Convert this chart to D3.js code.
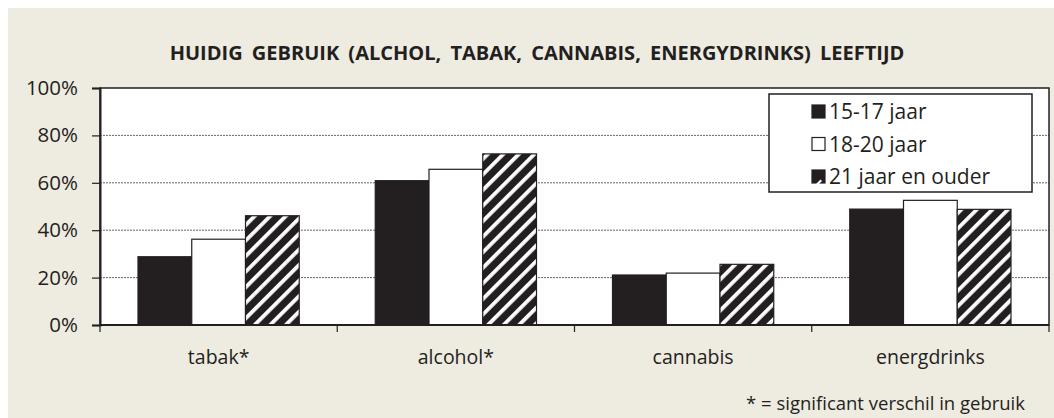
<!DOCTYPE html>
<html>
<head>
<meta charset="utf-8">
<script src="https://cdn.jsdelivr.net/npm/d3@7"></script>
<style>
    body { margin: 0; background: #fff; }
    text { font-family: "Open Sans", "Noto Sans", sans-serif; fill: #231f20; }
</style>
</head>
<body>
<div id="chart"></div>
<script>
const width = 1054, height = 418
const margin = {top: 88, right: 5, bottom: 93, left: 100}
const innerW = width - margin.left - margin.right
const innerH = height - margin.top - margin.bottom

const categories = ["tabak*", "alcohol*", "cannabis", "energdrinks"]
const seriesNames = ["15-17 jaar", "18-20 jaar", "21 jaar en ouder"]
const age15_17 = [28.8, 60.9, 21.1, 48.9]
const age18_20 = [36.2, 65.7, 21.9, 52.6]
const age21plus = [46.1, 72.2, 25.6, 48.8]
const yTicks = [0, 20, 40, 60, 80, 100]
const title = "HUIDIG GEBRUIK (ALCHOL, TABAK, CANNABIS, ENERGYDRINKS) LEEFTIJD"
const footnote = "* = significant verschil in gebruik"

const seriesValues = [age15_17, age18_20, age21plus]
const ink = "#231f20"

const svg = d3.select("#chart").append("svg")
    .attr("width", width)
    .attr("height", height)

// hatch pattern for oldest group
const defs = svg.append("defs")
const pat = defs.append("pattern")
    .attr("id", "hatch")
    .attr("patternUnits", "userSpaceOnUse")
    .attr("width", 11)
    .attr("height", 11)
    .attr("patternTransform", "rotate(45)")
pat.append("rect").attr("width", 11).attr("height", 11).attr("fill", ink)
pat.append("rect").attr("x", 0).attr("width", 3.8).attr("height", 11).attr("fill", "#fff")

const fills = [ink, "#fff", "url(#hatch)"]

// beige background
svg.append("rect")
    .attr("x", 8).attr("y", 8)
    .attr("width", width - 8).attr("height", height - 8)
    .attr("fill", "#eeebe0")

svg.append("text")
    .attr("x", 537)
    .attr("y", 60)
    .attr("text-anchor", "middle")
    .style("font-size", "20px")
    .style("font-weight", "bold")
    .style("word-spacing", "4px")
    .text(title)

const g = svg.append("g")
    .attr("transform", "translate(" + margin.left + "," + margin.top + ")")

const x0 = d3.scaleBand().domain(categories).range([0, innerW])
const x1 = d3.scaleBand().domain(d3.range(seriesNames.length))
    .range([38, x0.bandwidth() - 38])
const y = d3.scaleLinear().domain([0, 100]).range([innerH, 0])

g.append("rect")
    .attr("width", innerW)
    .attr("height", innerH)
    .attr("fill", "#fff")

// gridlines
g.selectAll(".grid")
    .data(yTicks.filter(d => d > 0 && d < 100))
    .enter().append("line")
    .attr("x1", 0).attr("x2", innerW)
    .attr("y1", d => y(d)).attr("y2", d => y(d))
    .attr("stroke", "#666")
    .attr("stroke-width", 1)
    .attr("stroke-dasharray", "2,1")

// bars
seriesValues.forEach((vals, s) => {
    g.selectAll(".bar" + s)
        .data(vals)
        .enter().append("rect")
        .attr("x", (d, i) => x0(categories[i]) + x1(s))
        .attr("y", d => y(d))
        .attr("width", x1.bandwidth())
        .attr("height", d => innerH - y(d))
        .attr("fill", fills[s])
        .attr("stroke", ink)
        .attr("stroke-width", 1.2)
})

// plot frame
g.append("rect")
    .attr("width", innerW)
    .attr("height", innerH)
    .attr("fill", "none")
    .attr("stroke", ink)
    .attr("stroke-width", 1.5)

// y axis
const yAxis = g.append("g")
    .call(d3.axisLeft(y).tickValues(yTicks).tickFormat(d => d + "%").tickSizeOuter(0).tickSize(8).tickPadding(14))
yAxis.select(".domain").attr("stroke", ink).attr("stroke-width", 2)
yAxis.selectAll(".tick line").attr("stroke", ink).attr("stroke-width", 1.2)
yAxis.selectAll("text").style("font-size", "20.5px").attr("fill", ink)

// x axis: ticks at category boundaries
const xAxis = g.append("g").attr("transform", "translate(0," + innerH + ")")
xAxis.append("line")
    .attr("x1", 0).attr("x2", innerW)
    .attr("stroke", ink).attr("stroke-width", 2)
xAxis.selectAll(".sep")
    .data(categories.map(c => x0(c)).concat([innerW]))
    .enter().append("line")
    .attr("x1", d => d).attr("x2", d => d)
    .attr("y1", 0).attr("y2", 7)
    .attr("stroke", ink).attr("stroke-width", 1.2)
xAxis.selectAll(".cat")
    .data(categories)
    .enter().append("text")
    .attr("x", d => x0(d) + x0.bandwidth() / 2)
    .attr("y", 39)
    .attr("text-anchor", "middle")
    .style("font-size", "19.5px")
    .text(d => d)

// legend
const legend = svg.append("g").attr("transform", "translate(769,94)")
legend.append("rect")
    .attr("width", 263).attr("height", 98)
    .attr("fill", "#fff")
    .attr("stroke", ink).attr("stroke-width", 1.5)
seriesNames.forEach((name, i) => {
    const row = legend.append("g").attr("transform", "translate(43," + (17.5 + i * 32.5) + ")")
    row.append("rect")
        .attr("x", 0).attr("y", -6.5)
        .attr("width", 13).attr("height", 13)
        .attr("fill", i === 2 ? ink : fills[i])
        .attr("stroke", ink).attr("stroke-width", 1.2)
    if (i === 2) {
        row.append("path")
            .attr("d", "M3,8.5 L8.5,3 L10,4.5 L4.5,10 Z")
            .attr("fill", "#fff")
    }
    row.append("text")
        .attr("x", 17).attr("y", 7.5)
        .style("font-size", "21px")
        .text(name)
})

svg.append("text")
    .attr("x", 1025)
    .attr("y", 410)
    .attr("text-anchor", "end")
    .style("font-size", "18.5px")
    .text(footnote)
</script>
</body>
</html>
